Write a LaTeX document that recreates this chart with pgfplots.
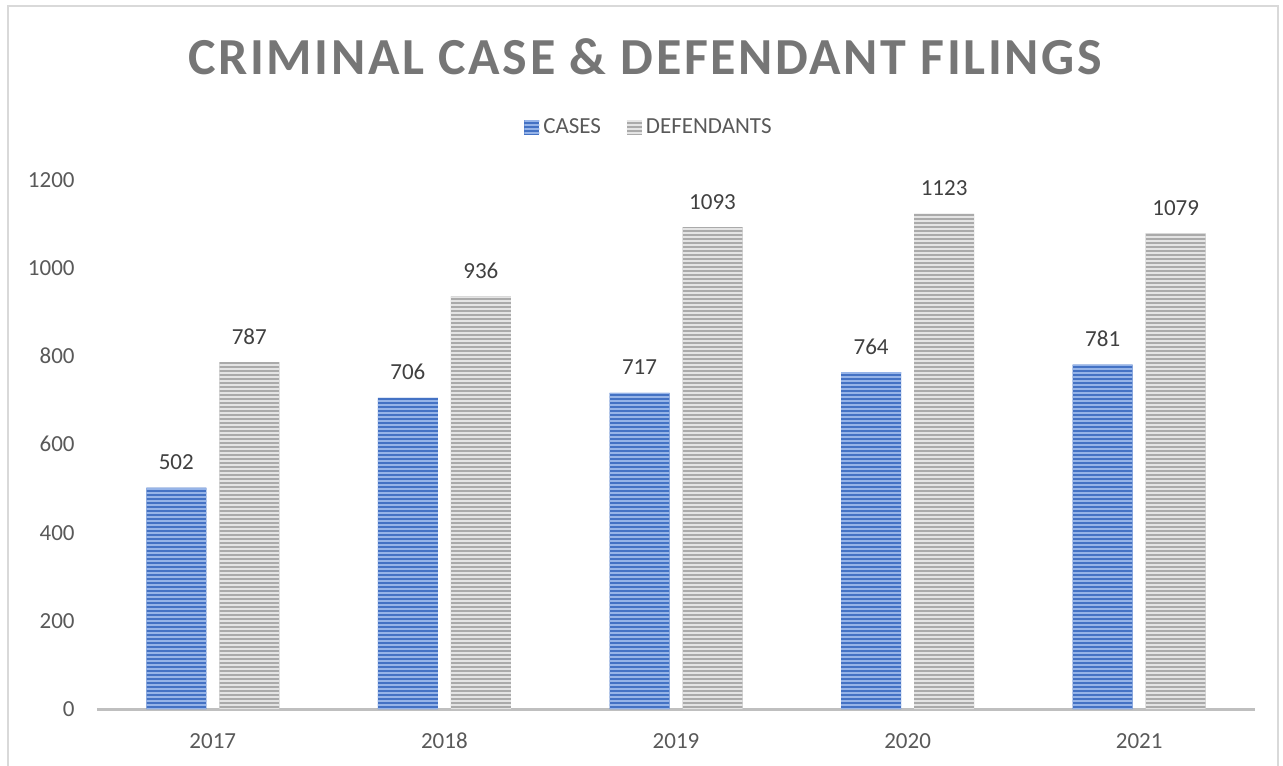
\documentclass[border=0pt]{standalone}
\usepackage{fontspec}
\setmainfont{Carlito}
\newfontfamily\titlefont[LetterSpace=5]{Carlito}
\usepackage{pgfplots}
\pgfplotsset{compat=1.18}
\usetikzlibrary{patterns.meta}
\definecolor{casesblue}{RGB}{68,114,196}
\definecolor{casesstripe}{RGB}{150,180,232}
\definecolor{defgray}{RGB}{170,170,170}
\definecolor{defstripe}{RGB}{228,228,228}
\definecolor{ticktext}{RGB}{89,89,89}
\definecolor{labeltext}{RGB}{64,64,64}
\definecolor{titlegray}{RGB}{118,118,118}
\definecolor{framegray}{RGB}{217,217,217}
\definecolor{axisgray}{RGB}{191,191,191}

\begin{document}
\begin{tikzpicture}
\useasboundingbox (-48.5pt,-28pt) rectangle (593pt,354.5pt);
\draw[framegray, line width=1pt] (-44.5pt,-40pt) -- (-44.5pt,351.5pt) -- (590.5pt,351.5pt) -- (590.5pt,-40pt);
\node[anchor=base, text=titlegray, font=\titlefont\bfseries\fontsize{26}{30}\selectfont] at (274pt,317pt) {CRIMINAL CASE \& DEFENDANT FILINGS};
\begin{axis}[
  at={(0,0)}, anchor=south west,
  scale only axis,
  width=579pt, height=264.5pt,
  ybar=6.5pt, bar width=30pt,
  xmin=-0.5, xmax=4.5,
  ymin=0, ymax=1200,
  xtick=data,
  xticklabels={2017,2018,2019,2020,2021},
  ytick={0,200,400,600,800,1000,1200},
  axis x line*=bottom, axis y line*=left,
  x axis line style={axisgray, line width=1.5pt, -},
  y axis line style={draw=none},
  major tick length=0pt,
  /pgf/number format/assume math mode=true,
  /pgf/number format/1000 sep={},
  tick label style={font=\fontsize{11.5}{13}\selectfont, text=ticktext},
  xticklabel style={anchor=base, inner sep=0pt, yshift=-19.5pt},
  yticklabel style={anchor=base east, inner sep=0pt, xshift=-11pt, yshift=-3.7pt},
  nodes near coords,
  nodes near coords style={anchor=base, inner sep=0pt, yshift=9pt, font=\fontsize{11.5}{13}\selectfont, text=labeltext},
  legend columns=2,
  legend style={at={(0.4775,1.10)}, anchor=center, draw=none, fill=none,
    font=\fontsize{11.5}{13}\selectfont, text=ticktext,
    /tikz/every even column/.append style={column sep=11pt}},
  legend image code/.code={\fill[#1] (0pt,-3.75pt) rectangle (7.5pt,3.75pt);},
  clip=false,
]
\addplot[draw=none, fill=casesblue, postaction={pattern={Lines[angle=0,distance=2pt,line width=0.8pt]}, pattern color=casesstripe}] coordinates {
  (0,502) (1,706) (2,717) (3,764) (4,781)
};
\addlegendentry{CASES}
\addplot[draw=none, fill=defgray, postaction={pattern={Lines[angle=0,distance=2pt,line width=0.8pt]}, pattern color=defstripe}] coordinates {
  (0,787) (1,936) (2,1093) (3,1123) (4,1079)
};
\addlegendentry{DEFENDANTS}
\end{axis}
\end{tikzpicture}
\end{document}
